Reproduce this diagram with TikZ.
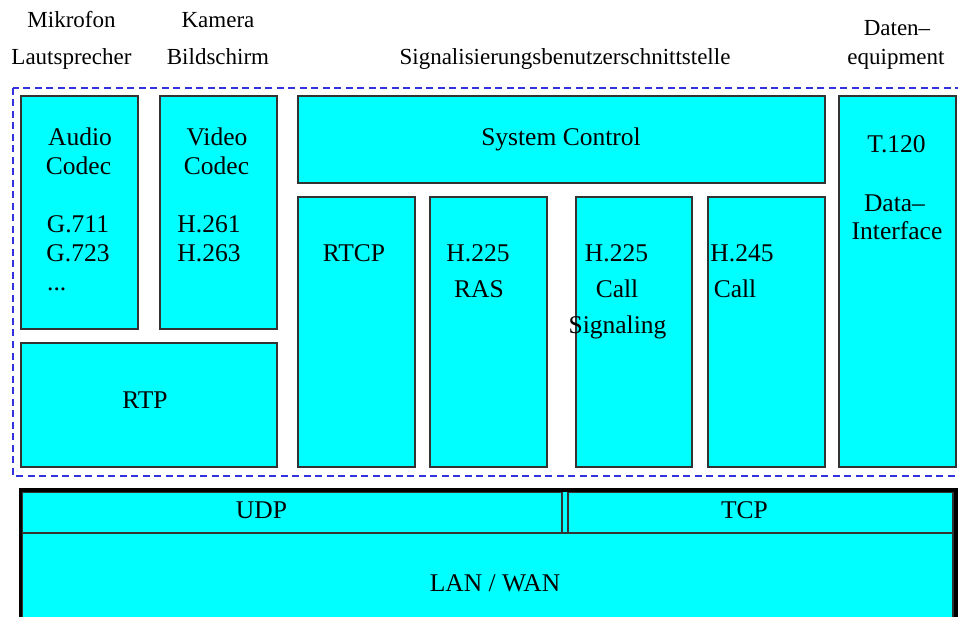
\documentclass[tikz,border=0pt]{standalone}
\usepackage{fontspec}
\setmainfont{Liberation Serif}
\definecolor{boxcyan}{RGB}{0,255,255}
\definecolor{frameblue}{RGB}{51,51,221}
\begin{document}
\begin{tikzpicture}[x=1pt,y=-1pt,
  box/.style={draw=black!80, line width=1.1pt, fill=boxcyan, inner sep=0pt},
  lab/.style={anchor=base, inner sep=0pt, font=\fontsize{23}{27}\selectfont},
  txt/.style={anchor=base, inner sep=0pt, font=\fontsize{25.5}{30}\selectfont},
  frame/.style={draw=frameblue, line width=1.3pt, dash pattern=on 7pt off 4.5pt}]
\useasboundingbox (0,0) rectangle (958,617);
\clip (0,0) rectangle (958,617);

% labels above the frame
\node[lab] (mik) at (71.5,28) {Mikrofon};
\node[lab] (laut) at (71.5,65) {Lautsprecher};
\node[lab] (kam) at (218,28) {Kamera};
\node[lab] (bild) at (218,65) {Bildschirm};
\node[lab] (sig) at (565,65) {Signalisierungsbenutzerschnittstelle};
\node[lab] (dat) at (897,36) {Daten–};
\node[lab] (equ) at (896,65) {equipment};

% dashed H.323 frame
\draw[frame] (13,88) rectangle (962,476);

% component boxes
\node[box, minimum width=117, minimum height=233] (audio) at (79.5,212.5) {};
\node[box, minimum width=117, minimum height=233] (video) at (218.5,212.5) {};
\node[box, minimum width=256, minimum height=124] (rtp) at (149,405) {};
\node[box, minimum width=527, minimum height=87] (sysctl) at (561.5,139.5) {};
\node[box, minimum width=117, minimum height=270] (rtcp) at (356.5,332) {};
\node[box, minimum width=117, minimum height=270] (ras) at (488.5,332) {};
\node[box, minimum width=116, minimum height=270] (callsig) at (634,332) {};
\node[box, minimum width=117, minimum height=270] (h245) at (766.5,332) {};
\node[box, minimum width=117, minimum height=371] (t120) at (897.5,281.5) {};

% box texts
\node[txt] (audio1) at (80,146) {Audio};
\node[txt] (audio2) at (78.5,175) {Codec};
\node[txt] (g711) at (78,233) {G.711};
\node[txt] (g723) at (78,262) {G.723};
\node[txt, anchor=base west] (gdots) at (47,291) {...};
\node[txt] (video1) at (217,146) {Video};
\node[txt] (video2) at (216.5,175) {Codec};
\node[txt] (h261) at (209,233) {H.261};
\node[txt] (h263) at (209,262) {H.263};
\node[txt] (rtpt) at (145,408) {RTP};
\node[txt] (sysctlt) at (561,146) {System Control};
\node[txt] (rtcpt) at (354,262) {RTCP};
\node[txt] (ras1) at (478,262) {H.225};
\node[txt] (ras2) at (479,298) {RAS};
\node[txt] (cs1) at (616.5,262) {H.225};
\node[txt] (cs2) at (617,298) {Call};
\node[txt] (cs3) at (617.5,334) {Signaling};
\node[txt] (h2451) at (742,262) {H.245};
\node[txt] (h2452) at (735,298) {Call};
\node[txt] (t1201) at (896.5,153) {T.120};
\node[txt] (t1202) at (894.5,212) {Data–};
\node[txt] (t1203) at (897,240) {Interface};

% transport and network layers
\draw[line width=3.5pt, fill=boxcyan] (20.5,490) rectangle (956,660);
\node[box, minimum width=931, minimum height=120] (lan) at (487.5,593) {};
\node[box, minimum width=540, minimum height=41] (udp) at (292,512.5) {};
\node[box, minimum width=385, minimum height=41] (tcp) at (760.5,512.5) {};
\draw[line width=3.5pt] (20.5,490) -- (956,490);
\draw[line width=3.5pt] (20.5,490) -- (20.5,660);
\draw[line width=3.5pt] (956,490) -- (956,660);
\node[txt] (udpt) at (261.5,518) {UDP};
\node[txt] (tcpt) at (744.5,518) {TCP};
\node[txt] (lant) at (495,591) {LAN / WAN};
\end{tikzpicture}
\end{document}
